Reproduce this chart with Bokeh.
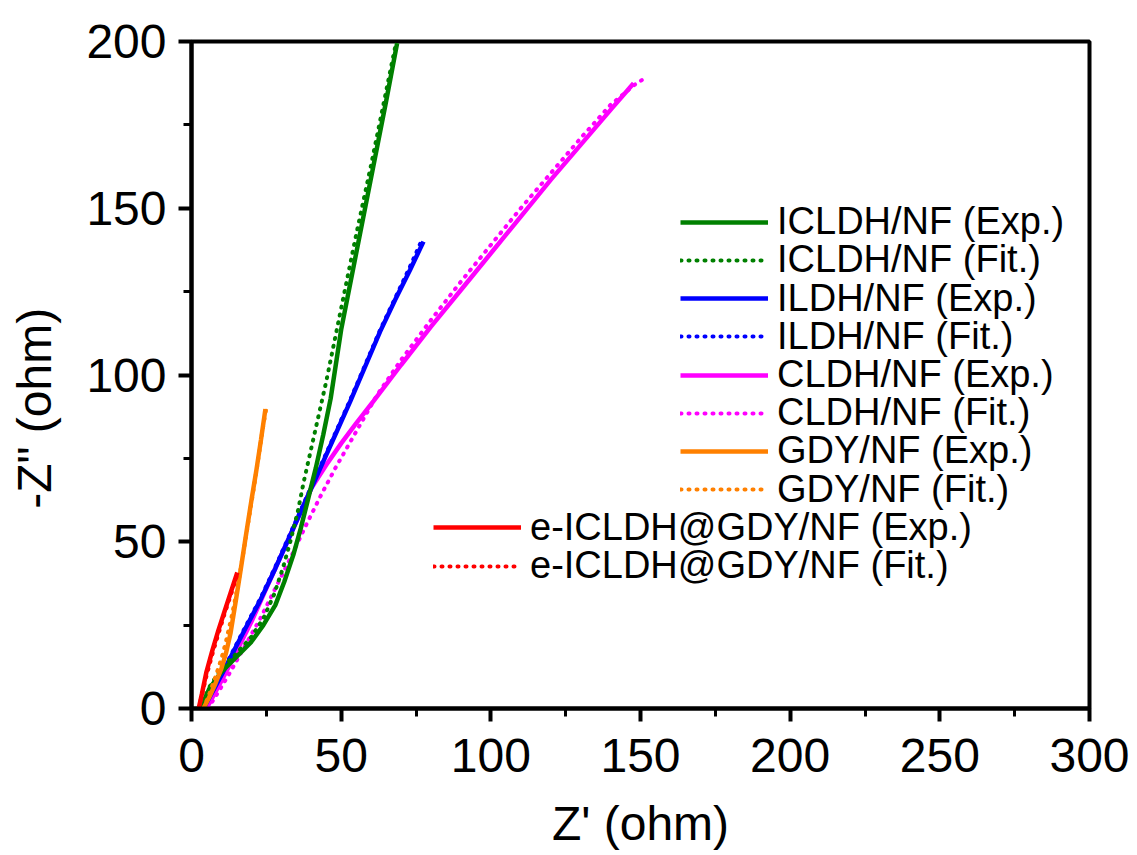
from bokeh.plotting import figure
from bokeh.models import Range1d, FixedTicker, Legend, LegendItem
from bokeh.embed import file_html
from bokeh.resources import INLINE

# ---- data ----
icldh_exp_x = [3, 6, 10, 15, 20, 24, 28, 31, 34, 36.5, 39, 41.5, 44, 46.5, 50, 55, 60, 65, 68.7]
icldh_exp_y = [0, 6, 11, 15.5, 20, 25, 31, 38, 46, 54, 63, 72, 82, 93, 113.6, 136.4, 159.2, 182, 199.5]
icldh_fit_x = [3, 6, 10, 15, 20, 24, 27.5, 30.5, 33, 35.5, 37.5, 40, 42.5, 45, 50, 55, 60, 65, 68.3]
icldh_fit_y = [0, 6.5, 12, 16.5, 21.5, 27, 34, 42, 50, 59, 68, 78, 88, 98, 120, 142, 163, 185, 199.5]

ildh_exp_x = [4, 7, 10, 14, 18, 23, 28, 33, 38, 43, 48, 53, 58, 63, 68, 73, 77.5]
ildh_exp_y = [0, 5, 10, 17, 24, 32.5, 42, 52, 62, 72, 82, 92, 102.5, 113, 122.5, 131.5, 140]
ildh_fit_x = [4, 7, 10, 14, 18, 23, 28, 33, 38, 43, 48, 53, 58, 63, 68, 73, 77.2]
ildh_fit_y = [0, 5.5, 10.5, 17.5, 24.5, 33, 42.5, 52.5, 62.5, 72.5, 82.5, 92.5, 103, 113.5, 123, 132.5, 141]

cldh_exp_x = [5, 8, 11, 15, 20, 25, 30, 35, 40, 45, 50, 55, 60.8, 70, 80, 90, 100, 110, 120, 130, 140, 147.7]
cldh_exp_y = [0, 5, 10, 17, 26, 36, 46, 56, 66, 73, 79.5, 85.5, 92.2, 103, 114.5, 125.5, 136.5, 147.5, 158.5, 169, 179.5, 187.5]
cldh_fit_x = [5.5, 9, 13, 18, 23, 28, 33, 38, 43, 48, 55, 62, 70, 80, 90, 100, 110, 120, 130, 140, 148, 152.3]
cldh_fit_y = [0, 5, 11, 19, 27, 36, 45, 54.5, 63.5, 72, 83, 94, 104.5, 116.5, 128, 139, 150, 160.5, 171, 181, 187, 189.5]

gdy_exp_x = [4, 6, 8, 10, 11.5, 13, 14.8, 16.5, 18.2, 20, 21.6, 23.2, 24.7]
gdy_exp_y = [0, 3.5, 7.5, 12, 16.5, 22.4, 32.3, 42, 52, 62.3, 71, 80.5, 89.8]
gdy_fit_x = [4, 6, 8, 10, 11.5, 13.5, 15.5, 17.2, 19, 20.8, 22.5, 24, 25]
gdy_fit_y = [0, 4.5, 9.5, 15, 20, 28, 37, 46, 56, 66, 76, 85, 90]

e_exp_x = [2.4, 3.5, 5, 7, 9, 11, 13, 15.3]
e_exp_y = [0, 4.5, 11, 17.5, 23.5, 29, 34.5, 40.8]
e_fit_x = [2.4, 3.6, 5.2, 7.2, 9.2, 11.2, 13.2, 15.2]
e_fit_y = [0, 4.5, 10.5, 17, 23, 28.8, 34.2, 40]

x_ticks = [0, 50, 100, 150, 200, 250, 300]
x_minor = [25, 75, 125, 175, 225, 275]
y_ticks = [0, 50, 100, 150, 200]
y_minor = [25, 75, 125, 175]

legend_labels = ["ICLDH/NF (Exp.)", "ICLDH/NF (Fit.)", "ILDH/NF (Exp.)", "ILDH/NF (Fit.)",
                 "CLDH/NF (Exp.)", "CLDH/NF (Fit.)", "GDY/NF (Exp.)", "GDY/NF (Fit.)",
                 "e-ICLDH@GDY/NF (Exp.)", "e-ICLDH@GDY/NF (Fit.)"]

GREEN = "#008000"
BLUE = "#0000FF"
MAGENTA = "#FF00FF"
ORANGE = "#FF8000"
RED = "#FF0000"

FONT = "Liberation Sans"

p = figure(width=1137, height=855, output_backend="svg", toolbar_location=None,
           x_range=Range1d(0, 300), y_range=Range1d(0, 200),
           min_border_left=191, min_border_right=48, min_border_top=41, min_border_bottom=147)
p.xgrid.visible = False
p.ygrid.visible = False
p.outline_line_color = "black"
p.outline_line_width = 4
p.outline_line_alpha = 1
p.background_fill_color = "white"
p.border_fill_color = "white"

for ax, tk, mn in ((p.xaxis[0], x_ticks, x_minor), (p.yaxis[0], y_ticks, y_minor)):
    ax.ticker = FixedTicker(ticks=tk, minor_ticks=mn)
    ax.axis_line_width = 4
    ax.major_tick_line_width = 4
    ax.minor_tick_line_width = 3
    ax.major_tick_in = 0
    ax.major_tick_out = 13
    ax.minor_tick_in = 0
    ax.minor_tick_out = 8
    ax.major_label_text_font = FONT
    ax.major_label_text_font_size = "48px"
    ax.major_label_text_color = "black"
    ax.axis_label_text_font = FONT
    ax.axis_label_text_font_size = "48px"
    ax.axis_label_text_font_style = "normal"
    ax.axis_label_text_color = "black"

p.xaxis.axis_label = "Z' (ohm)"
p.yaxis.axis_label = '-Z" (ohm)' + "\u00a0" * 5
p.xaxis.major_label_standoff = 17
p.yaxis.major_label_standoff = 12
p.xaxis.axis_label_standoff = 22
p.yaxis.axis_label_standoff = 22

LW = 4.5
DW = 4
DASH = "1 7"

r_c_exp = p.line(cldh_exp_x, cldh_exp_y, line_color=MAGENTA, line_width=LW)
r_c_fit = p.line(cldh_fit_x, cldh_fit_y, line_color=MAGENTA, line_width=DW, line_dash=DASH, line_cap="round")
r_i_exp = p.line(ildh_exp_x, ildh_exp_y, line_color=BLUE, line_width=LW)
r_i_fit = p.line(ildh_fit_x, ildh_fit_y, line_color=BLUE, line_width=DW, line_dash=DASH, line_cap="round")
r_ic_exp = p.line(icldh_exp_x, icldh_exp_y, line_color=GREEN, line_width=LW)
r_ic_fit = p.line(icldh_fit_x, icldh_fit_y, line_color=GREEN, line_width=DW, line_dash=DASH, line_cap="round")
r_g_exp = p.line(gdy_exp_x, gdy_exp_y, line_color=ORANGE, line_width=LW)
r_g_fit = p.line(gdy_fit_x, gdy_fit_y, line_color=ORANGE, line_width=DW, line_dash=DASH, line_cap="round")
r_e_exp = p.line(e_exp_x, e_exp_y, line_color=RED, line_width=LW)
r_e_fit = p.line(e_fit_x, e_fit_y, line_color=RED, line_width=DW, line_dash=DASH, line_cap="round")

renderers = [r_ic_exp, r_ic_fit, r_i_exp, r_i_fit, r_c_exp, r_c_fit, r_g_exp, r_g_fit, r_e_exp, r_e_fit]

# one single-entry legend per row, to reproduce the reference's tight row pitch
FS = 38
half_h = 0.56 * FS
first_row, pitch = 222, 38.2  # screen px
frame_bottom = 708
for i, (lab, r) in enumerate(zip(legend_labels, renderers)):
    x0 = 489 if i < 8 else 242
    y0 = frame_bottom - (first_row + pitch * i) - half_h
    lg = Legend(items=[LegendItem(label=lab, renderers=[r])], location=(x0, y0),
                orientation="vertical", glyph_width=88, glyph_height=20, label_standoff=9,
                padding=0, margin=0, spacing=0,
                border_line_color=None, background_fill_alpha=0,
                label_text_font=FONT, label_text_font_size=f"{FS}px",
                label_text_color="black")
    p.add_layout(lg, "center")

open("out.html", "w").write(file_html(p, INLINE))
